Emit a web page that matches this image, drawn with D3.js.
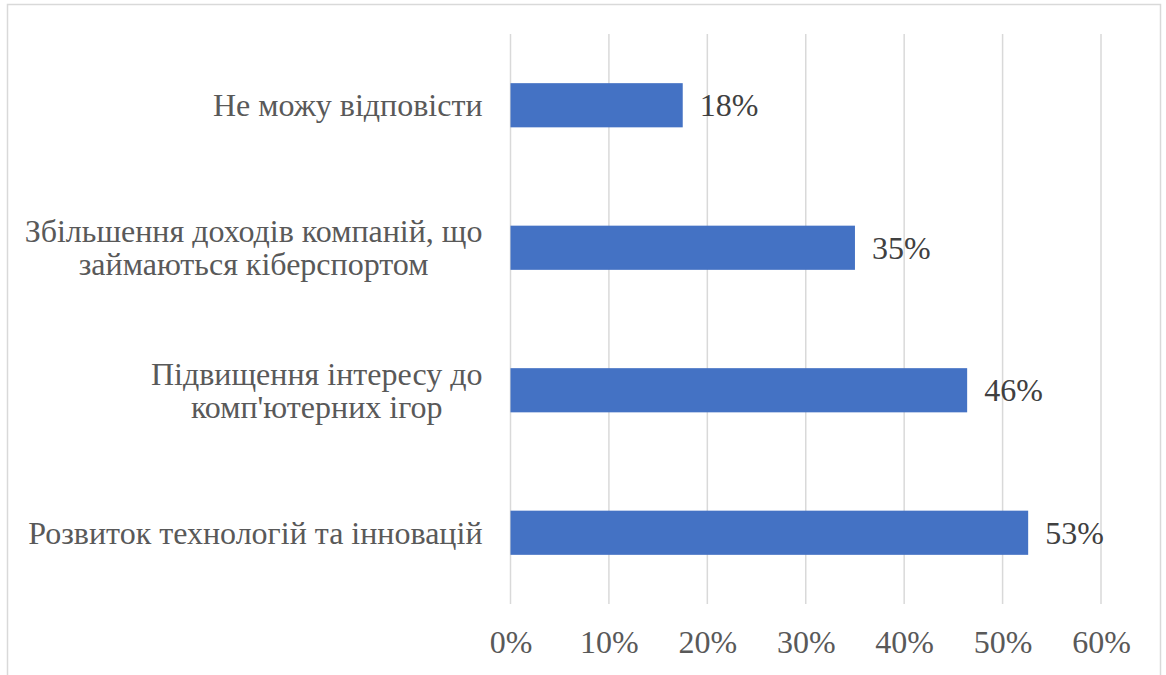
<!DOCTYPE html>
<html>
<head>
<meta charset="utf-8">
<script src="https://cdn.jsdelivr.net/npm/d3@7"></script>
<style>
  body { margin: 0; background: #fff; }
  svg text { font-family: "Liberation Serif", Tinos, "Times New Roman", "DejaVu Serif", serif; }
</style>
</head>
<body>
<svg id="chart"></svg>
<script>
// categories top to bottom, each one split into lines
var categories = [
    ["Не можу відповісти"],
    ["Збільшення доходів компаній, що", "займаються кіберспортом"],
    ["Підвищення інтересу до", "комп'ютерних ігор"],
    ["Розвиток технологій та інновацій"]
]
var values = [0.175, 0.35, 0.464, 0.526]
var valueLabels = ["18%", "35%", "46%", "53%"]
var ticks = [0, 0.1, 0.2, 0.3, 0.4, 0.5, 0.6]

var fontSize = 32

var dimensions = {
    width: 1166,
    height: 675,
    margin: { top: 34, bottom: 71, left: 510.5, right: 65 }
}

var svg = d3.select("#chart")
    .attr("width", dimensions.width)
    .attr("height", dimensions.height)

// outer frame
svg.append("rect")
    .attr("x", 7.5).attr("y", 4.5)
    .attr("width", 1153).attr("height", 690)
    .attr("fill", "none")
    .attr("stroke", "#d9d9d9")
    .attr("stroke-width", 1.5)

var xScale = d3.scaleLinear()
    .domain([0, 0.6])
    .range([dimensions.margin.left, dimensions.width - dimensions.margin.right])

var yScale = d3.scaleBand()
    .domain(d3.range(categories.length))
    .range([dimensions.margin.top, dimensions.height - dimensions.margin.bottom])
    .paddingInner(0.69)
    .paddingOuter(0.345)

// gridlines
svg.append("g")
    .selectAll("line")
    .data(ticks)
    .enter()
    .append("line")
    .attr("x1", d => xScale(d)).attr("x2", d => xScale(d))
    .attr("y1", dimensions.margin.top)
    .attr("y2", dimensions.height - dimensions.margin.bottom)
    .attr("stroke", "#d9d9d9")
    .attr("stroke-width", 1.5)

// x axis labels
var xAxisGen = d3.axisBottom(xScale)
    .tickValues(ticks)
    .tickFormat(d3.format(".0%"))
    .tickSize(0)
    .tickPadding(26)
var xAxis = svg.append("g")
    .attr("transform", `translate(0,${dimensions.height - dimensions.margin.bottom})`)
    .call(xAxisGen)
    .attr("font-family", null)
    .attr("font-size", null)
xAxis.select(".domain").remove()
xAxis.selectAll("text")
    .attr("font-size", fontSize)
    .attr("fill", "#595959")

// bars
svg.append("g")
    .selectAll("rect")
    .data(values)
    .enter()
    .append("rect")
    .attr("x", xScale(0))
    .attr("y", (d, i) => yScale(i))
    .attr("width", d => xScale(d) - xScale(0))
    .attr("height", yScale.bandwidth())
    .attr("fill", "#4472c4")

// value labels
svg.append("g")
    .selectAll("text")
    .data(values)
    .enter()
    .append("text")
    .attr("x", d => xScale(d) + 17)
    .attr("y", (d, i) => yScale(i) + yScale.bandwidth() / 2)
    .attr("dy", "0.35em")
    .attr("font-size", fontSize)
    .attr("fill", "#404040")
    .text((d, i) => valueLabels[i])

// category labels
var lineHeight = 33
var catLabels = svg.append("g")
    .selectAll("text")
    .data(categories)
    .enter()
    .append("text")
    .attr("text-anchor", "middle")
    .attr("font-size", fontSize)
    .attr("fill", "#595959")
    .attr("transform", (d, i) => `translate(${dimensions.margin.left - 28},${yScale(i) + yScale.bandwidth() / 2})`)

catLabels.each(function (lines) {
    var t = d3.select(this)
    var widths = []
    lines.forEach(function (l, j) {
        t.append("tspan")
            .attr("x", 0)
            .attr("y", (j - (lines.length - 1) / 2) * lineHeight)
            .attr("dy", "0.35em")
            .text(l)
    })
    // lines centred on each other, block right-aligned to the plot
    t.selectAll("tspan").each(function () { widths.push(this.getComputedTextLength()) })
    var w = d3.max(widths)
    t.selectAll("tspan").attr("x", -w / 2)
})
</script>
</body>
</html>
